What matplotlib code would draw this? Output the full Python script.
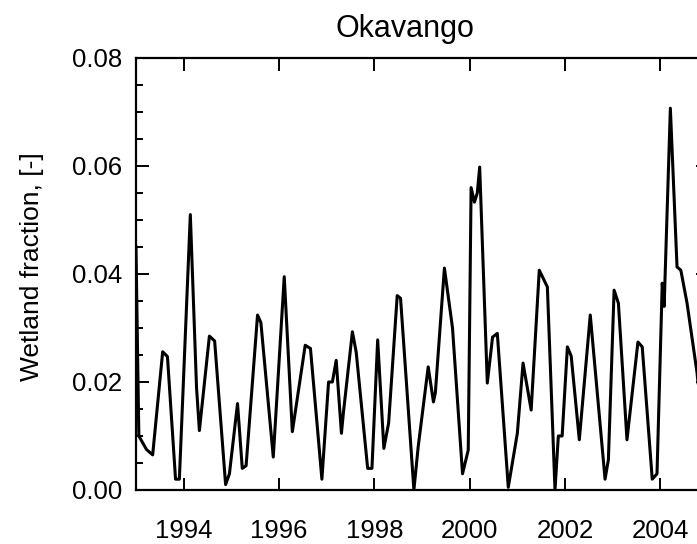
import matplotlib.pyplot as plt
from matplotlib.ticker import MultipleLocator, FormatStrFormatter

plt.rcParams['font.family'] = ['Liberation Sans', 'DejaVu Sans']

# vertices of the monthly curve (decimal year, fraction)
years = [1993.00, 1993.06, 1993.22, 1993.35, 1993.56, 1993.66, 1993.83, 1993.91,
         1994.14, 1994.27, 1994.33, 1994.54, 1994.65, 1994.88, 1994.96,
         1995.13, 1995.23, 1995.31, 1995.55, 1995.62, 1995.88,
         1996.11, 1996.28, 1996.55, 1996.66, 1996.90,
         1997.04, 1997.12, 1997.20, 1997.31, 1997.35, 1997.54, 1997.62, 1997.86, 1997.95,
         1998.07, 1998.20, 1998.30, 1998.48, 1998.55, 1998.83, 1998.92,
         1999.13, 1999.24, 1999.28, 1999.47, 1999.64, 1999.85, 1999.97,
         2000.03, 2000.10, 2000.16, 2000.21, 2000.37, 2000.48, 2000.58, 2000.81,
         2001.00, 2001.12, 2001.29, 2001.46, 2001.63, 2001.79, 2001.86, 2001.94,
         2002.05, 2002.13, 2002.30, 2002.53, 2002.84, 2002.91,
         2003.03, 2003.12, 2003.30, 2003.53, 2003.62, 2003.83, 2003.93,
         2004.04, 2004.08, 2004.21, 2004.35, 2004.43, 2004.56, 2004.77, 2004.92]
wetland = [0.045, 0.010, 0.0075, 0.0065, 0.0256, 0.0247, 0.002, 0.002,
           0.051, 0.019, 0.011, 0.0285, 0.0276, 0.001, 0.003,
           0.016, 0.004, 0.0045, 0.0324, 0.031, 0.0061,
           0.0395, 0.0108, 0.0268, 0.0262, 0.002,
           0.020, 0.020, 0.024, 0.0105, 0.0142, 0.0293, 0.0255, 0.004, 0.004,
           0.0278, 0.0077, 0.0124, 0.036, 0.0355, 0.0, 0.008,
           0.0228, 0.0163, 0.018, 0.0411, 0.030, 0.003, 0.0074,
           0.056, 0.0533, 0.055, 0.0598, 0.0198, 0.0283, 0.029, 0.0005,
           0.0105, 0.0235, 0.0148, 0.0407, 0.0376, 0.0, 0.010, 0.010,
           0.0265, 0.0248, 0.0093, 0.0324, 0.002, 0.0056,
           0.037, 0.0346, 0.0093, 0.0274, 0.0265, 0.002, 0.003,
           0.0383, 0.034, 0.0707, 0.0413, 0.0407, 0.0346, 0.0217, 0.008]

fig = plt.figure(figsize=(6.97, 5.44), dpi=100)
ax = fig.add_axes([0.1951, 0.0993, 0.8207, 0.7941])

ax.plot(years, wetland, color='black', lw=2.2, solid_joinstyle='round')

ax.set_xlim(1993, 2005)
ax.set_ylim(0, 0.08)
ax.xaxis.set_major_locator(MultipleLocator(2))
ax.yaxis.set_major_locator(MultipleLocator(0.02))
ax.yaxis.set_minor_locator(MultipleLocator(0.005))
ax.yaxis.set_major_formatter(FormatStrFormatter('%.2f'))

for s in ax.spines.values():
    s.set_linewidth(1.6)
ax.tick_params(which='both', direction='in', top=True, right=True, width=1.4, labelsize=18.5)
ax.tick_params(which='major', length=9)
ax.tick_params(which='minor', length=5)
ax.tick_params(axis='x', pad=21)
ax.tick_params(axis='y', pad=10)

fig.text(405 / 697, 1 - 29 / 544, 'Okavango', fontsize=22, ha='center', va='center')
fig.text(32 / 697, 1 - 267 / 544, 'Wetland fraction, [-]', fontsize=19,
         rotation=90, ha='center', va='center')

fig.savefig('out.png', dpi=100)
